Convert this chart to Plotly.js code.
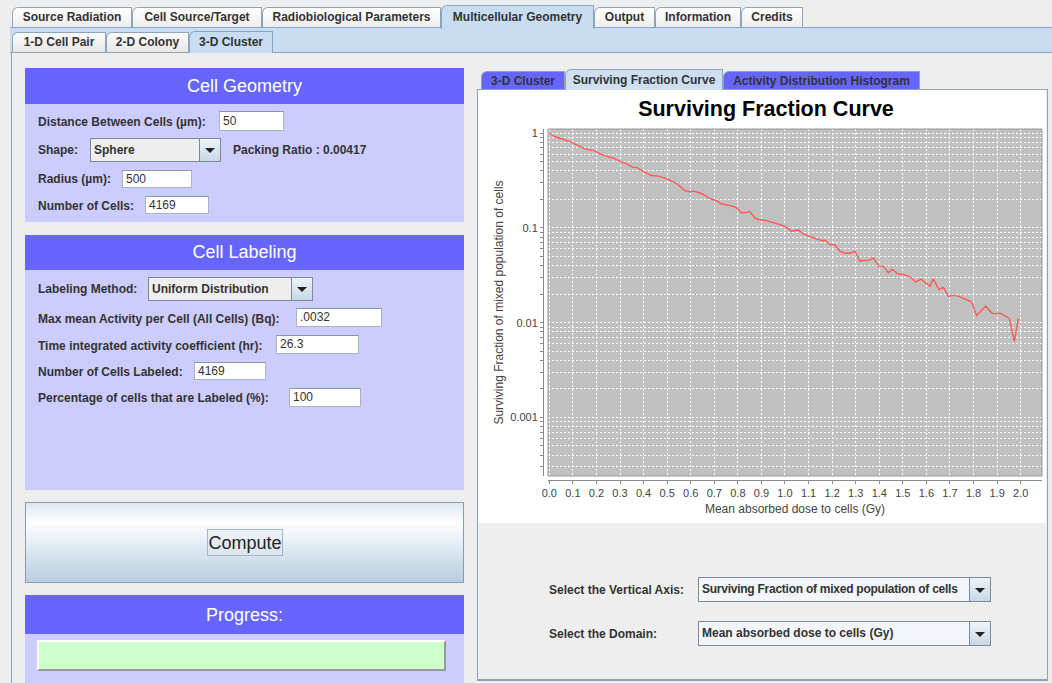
<!DOCTYPE html>
<html><head><meta charset="utf-8">
<script src="https://cdn.plot.ly/plotly-3.0.1.min.js"></script>
<style>
body{margin:0;background:#eeeeee;font-family:"Liberation Sans",Arial,sans-serif;}
#root{position:relative;width:1052px;height:683px;overflow:hidden;background:#eeeeee;}
.a{position:absolute;box-sizing:border-box;}
.tab{position:absolute;box-sizing:border-box;font-weight:bold;font-size:12px;color:#333;text-align:center;border:1px solid #8da4bd;border-bottom:none;border-top-left-radius:6px;background:linear-gradient(#ffffff,#eeeeee);}
.lbl{position:absolute;font-weight:bold;font-size:12px;color:#333;white-space:nowrap;transform:translateY(-50%);}
.hdr{position:absolute;box-sizing:border-box;background:#6666ff;color:#fff;font-size:18px;text-align:center;}
.body{position:absolute;box-sizing:border-box;background:#ccccff;}
.inp{position:absolute;box-sizing:border-box;background:#fff;border:1px solid #a8b4c2;border-top-color:#8a96a4;font-size:12px;color:#333;padding-left:3px;white-space:nowrap;overflow:hidden;}
.combo{position:absolute;box-sizing:border-box;border:1px solid #7a8a99;background:#eeeeee;font-size:12px;font-weight:bold;color:#333;padding-left:3px;white-space:nowrap;}
.arrow{position:absolute;top:0;bottom:0;right:0;width:20px;border-left:1px solid #7a8a99;background:linear-gradient(#eef3f8,#c8d8e8);}
.arrow:after{content:"";position:absolute;left:5px;top:50%;margin-top:-2px;border-left:5px solid transparent;border-right:5px solid transparent;border-top:5px solid #222;}
</style></head>
<body><div id="root">

<!-- top tabs -->
<div class="a" style="left:10px;top:27px;width:1042px;height:26px;background:#c8ddf2;border-top:1px solid #8da4bd;border-bottom:1px solid #8da4bd;"></div>
<div class="tab" style="left:12px;top:7px;width:120px;height:20px;line-height:19px;">Source Radiation</div>
<div class="tab" style="left:132px;top:7px;width:130px;height:20px;line-height:19px;">Cell Source/Target</div>
<div class="tab" style="left:262px;top:7px;width:179px;height:20px;line-height:19px;">Radiobiological Parameters</div>
<div class="tab" style="left:441px;top:5px;width:153px;height:24px;line-height:23px;background:#c8ddf2;">Multicellular Geometry</div>
<div class="tab" style="left:594px;top:7px;width:61px;height:20px;line-height:19px;">Output</div>
<div class="tab" style="left:655px;top:7px;width:86px;height:20px;line-height:19px;">Information</div>
<div class="tab" style="left:741px;top:7px;width:62px;height:20px;line-height:19px;">Credits</div>

<!-- sub tabs -->
<div class="tab" style="left:12px;top:32px;width:94px;height:20px;line-height:19px;background:linear-gradient(#fafafa,#e8e8e8);">1-D Cell Pair</div>
<div class="tab" style="left:106px;top:32px;width:83px;height:20px;line-height:19px;background:linear-gradient(#fafafa,#e8e8e8);">2-D Colony</div>
<div class="tab" style="left:189px;top:31px;width:84px;height:22px;line-height:21px;background:#c8ddf2;">3-D Cluster</div>
<div class="a" style="left:11px;top:53px;width:1px;height:630px;background:#8da4bd;"></div>

<!-- Cell Geometry -->
<div class="hdr" style="left:25px;top:68px;width:439px;height:36px;line-height:36px;">Cell Geometry</div>
<div class="body" style="left:25px;top:104px;width:439px;height:118px;"></div>
<div class="lbl" style="left:38px;top:122px;">Distance Between Cells (µm):</div>
<div class="inp" style="left:219px;top:111px;width:65px;height:20px;line-height:18px;">50</div>
<div class="lbl" style="left:38px;top:150px;">Shape:</div>
<div class="combo" style="left:90px;top:138px;width:131px;height:24px;line-height:22px;">Sphere<div class="arrow"></div></div>
<div class="lbl" style="left:233px;top:150px;">Packing Ratio : 0.00417</div>
<div class="lbl" style="left:38px;top:179px;">Radius (µm):</div>
<div class="inp" style="left:122px;top:170px;width:70px;height:18px;line-height:16px;">500</div>
<div class="lbl" style="left:38px;top:206px;">Number of Cells:</div>
<div class="inp" style="left:145px;top:196px;width:64px;height:18px;line-height:16px;">4169</div>

<!-- Cell Labeling -->
<div class="hdr" style="left:25px;top:235px;width:439px;height:35px;line-height:35px;">Cell Labeling</div>
<div class="body" style="left:25px;top:270px;width:439px;height:220px;"></div>
<div class="lbl" style="left:38px;top:289px;">Labeling Method:</div>
<div class="combo" style="left:148px;top:277px;width:165px;height:24px;line-height:22px;">Uniform Distribution<div class="arrow"></div></div>
<div class="lbl" style="left:38px;top:319px;">Max mean Activity per Cell (All Cells) (Bq):</div>
<div class="inp" style="left:296px;top:308px;width:86px;height:19px;line-height:17px;">.0032</div>
<div class="lbl" style="left:38px;top:346px;">Time integrated activity coefficient (hr):</div>
<div class="inp" style="left:276px;top:335px;width:83px;height:19px;line-height:17px;">26.3</div>
<div class="lbl" style="left:38px;top:372px;">Number of Cells Labeled:</div>
<div class="inp" style="left:194px;top:362px;width:72px;height:18px;line-height:16px;">4169</div>
<div class="lbl" style="left:38px;top:398px;">Percentage of cells that are Labeled (%):</div>
<div class="inp" style="left:289px;top:388px;width:72px;height:19px;line-height:17px;">100</div>

<!-- Compute -->
<div class="a" style="left:25px;top:502px;width:439px;height:81px;border:1px solid #8d9aa8;background:linear-gradient(#dde7f2 0%,#ffffff 25%,#e6eef6 50%,#b9cde1 100%);"></div>
<div class="a" style="left:207px;top:529px;width:76px;height:27px;border:1px solid #a5b5c6;background:linear-gradient(#eef3f8,#dae5f0);font-size:18px;color:#222;text-align:center;line-height:27px;">Compute</div>

<!-- Progress -->
<div class="hdr" style="left:25px;top:595px;width:439px;height:39px;line-height:41px;">Progress:</div>
<div class="body" style="left:25px;top:634px;width:439px;height:49px;"></div>
<div class="a" style="left:37px;top:640px;width:409px;height:31px;background:#ccffcc;border:2px solid #fff;border-right-color:#999;border-bottom-color:#999;"></div>

<!-- right panel tabs -->
<div class="tab" style="left:481px;top:71px;width:84px;height:19px;line-height:18px;background:#6666ff;">3-D Cluster</div>
<div class="tab" style="left:565px;top:69px;width:158px;height:21px;line-height:21px;background:#cfdff0;">Surviving Fraction Curve</div>
<div class="tab" style="left:723px;top:71px;width:197px;height:19px;line-height:18px;background:#6666ff;">Activity Distribution Histogram</div>
<div class="a" style="left:477px;top:89px;width:571px;height:592px;border:1px solid #8da4bd;border-bottom:2px solid #8da4bd;background:#eeeeee;"></div>
<div class="a" style="left:566px;top:88px;width:156px;height:2px;background:#cfdff0;"></div>
<div id="chart" class="a" style="left:478px;top:90px;width:568px;height:433px;background:#fff;"></div>

<div class="lbl" style="left:549px;top:590px;">Select the Vertical Axis:</div>
<div class="combo" style="left:698px;top:577px;width:293px;height:25px;line-height:23px;background:#f2f5f9;letter-spacing:-0.25px;">Surviving Fraction of mixed population of cells<div class="arrow"></div></div>
<div class="lbl" style="left:549px;top:634px;">Select the Domain:</div>
<div class="combo" style="left:698px;top:621px;width:293px;height:25px;line-height:23px;background:#f2f5f9;">Mean absorbed dose to cells (Gy)<div class="arrow"></div></div>

</div>
<script>
const dose = [0.000,0.017,0.045,0.088,0.109,0.123,0.151,0.194,0.215,0.243,0.272,0.307,0.328,0.352,0.371,0.399,0.434,0.463,0.491,0.533,0.547,0.576,0.597,0.611,0.639,0.661,0.682,0.710,0.731,0.752,0.781,0.795,0.816,0.837,0.851,0.873,0.894,0.915,0.943,0.965,0.993,1.014,1.028,1.057,1.078,1.106,1.134,1.156,1.170,1.191,1.212,1.233,1.255,1.276,1.297,1.318,1.332,1.354,1.375,1.396,1.417,1.438,1.455,1.478,1.502,1.530,1.554,1.577,1.615,1.629,1.653,1.672,1.693,1.714,1.735,1.764,1.792,1.813,1.851,1.877,1.891,1.912,1.952,1.973,1.990];
const survivingFraction = [1.000,0.937,0.886,0.817,0.766,0.742,0.684,0.652,0.606,0.573,0.545,0.495,0.476,0.439,0.435,0.395,0.358,0.353,0.336,0.302,0.286,0.247,0.241,0.245,0.234,0.221,0.204,0.194,0.179,0.176,0.169,0.162,0.145,0.146,0.149,0.127,0.122,0.121,0.116,0.111,0.106,0.0984,0.0923,0.0953,0.0865,0.0811,0.0766,0.0736,0.0742,0.0668,0.0657,0.0568,0.0541,0.0541,0.0568,0.0446,0.0453,0.0453,0.0483,0.0398,0.0395,0.0336,0.0367,0.0328,0.0323,0.0305,0.0270,0.0288,0.0243,0.0290,0.0224,0.0237,0.0189,0.0194,0.0191,0.0178,0.0165,0.0119,0.0149,0.0127,0.0124,0.0126,0.0111,0.0063,0.0111];
const majorLabels = {"0":"1","-1":"0.1","-2":"0.01","-3":"0.001"};
const titleText = "Surviving Fraction Curve";
const xTitle = "Mean absorbed dose to cells (Gy)";
const yTitle = "Surviving Fraction of mixed population of cells";

const yTickVals = [], yTickText = [];
for (let d = -4; d <= 0; d++) {
  for (let m = 1; m <= 9; m++) {
    const v = m * Math.pow(10, d);
    if (v < 0.00024 || v > 1.1) continue;
    yTickVals.push(v);
    yTickText.push(m === 1 ? (majorLabels[String(d)] || "") : "");
  }
}

const W = 568, H = 433, ml = 65, mr = 4, mt = 39, mb = 43;
const pw = W - ml - mr, ph = H - mt - mb;
const tickFont = {family: "Liberation Sans, Arial, sans-serif", size: 11, color: "#444"};
const layout = {
  width: W, height: H,
  margin: {l: ml, r: mr, t: mt, b: mb},
  paper_bgcolor: "#ffffff",
  plot_bgcolor: "#c0c0c0",
  showlegend: false,
  title: {text: titleText, font: {family: "Liberation Sans, Arial, sans-serif", size: 21.5, weight: "bold", color: "#000"},
          x: 0.507, xref: "container", xanchor: "center", y: 1 - 18.5/H, yref: "container", yanchor: "middle"},
  xaxis: {
    domain: [5/pw, 1], anchor: "free", position: 0,
    range: [-0.0055, 2.0904], dtick: 0.1, tick0: 0, tickformat: ".1f",
    showgrid: true, gridcolor: "#ffffff", griddash: "2px,2px", gridwidth: 1,
    showline: true, linecolor: "#888", linewidth: 1,
    ticks: "outside", ticklen: 3, tickcolor: "#888",
    tickfont: tickFont, zeroline: false,
    title: {text: xTitle, font: {family: "Liberation Sans, Arial, sans-serif", size: 12, color: "#444"}, standoff: 6}
  },
  yaxis: {
    domain: [4/ph, 1], anchor: "free", position: 0,
    type: "log", range: [-3.619, 0.045],
    tickmode: "array", tickvals: yTickVals, ticktext: yTickText,
    showgrid: true, gridcolor: "#ffffff", griddash: "2px,2px", gridwidth: 1,
    showline: true, linecolor: "#888", linewidth: 1,
    ticks: "outside", ticklen: 3, tickcolor: "#888",
    tickfont: tickFont, zeroline: false,
    title: {text: yTitle, font: {family: "Liberation Sans, Arial, sans-serif", size: 12, color: "#444"}, standoff: 3}
  },
  shapes: [{type: "rect", xref: "x domain", yref: "y domain", x0: 0, x1: 1, y0: 0, y1: 1,
            line: {color: "#999", width: 1}, fillcolor: "rgba(0,0,0,0)"}]
};
const trace = {x: dose, y: survivingFraction, type: "scatter", mode: "lines",
  line: {color: "#ff5a5a", width: 1.4}, hoverinfo: "skip"};
Plotly.newPlot("chart", [trace], layout, {displayModeBar: false, staticPlot: true});
</script>
</body></html>
